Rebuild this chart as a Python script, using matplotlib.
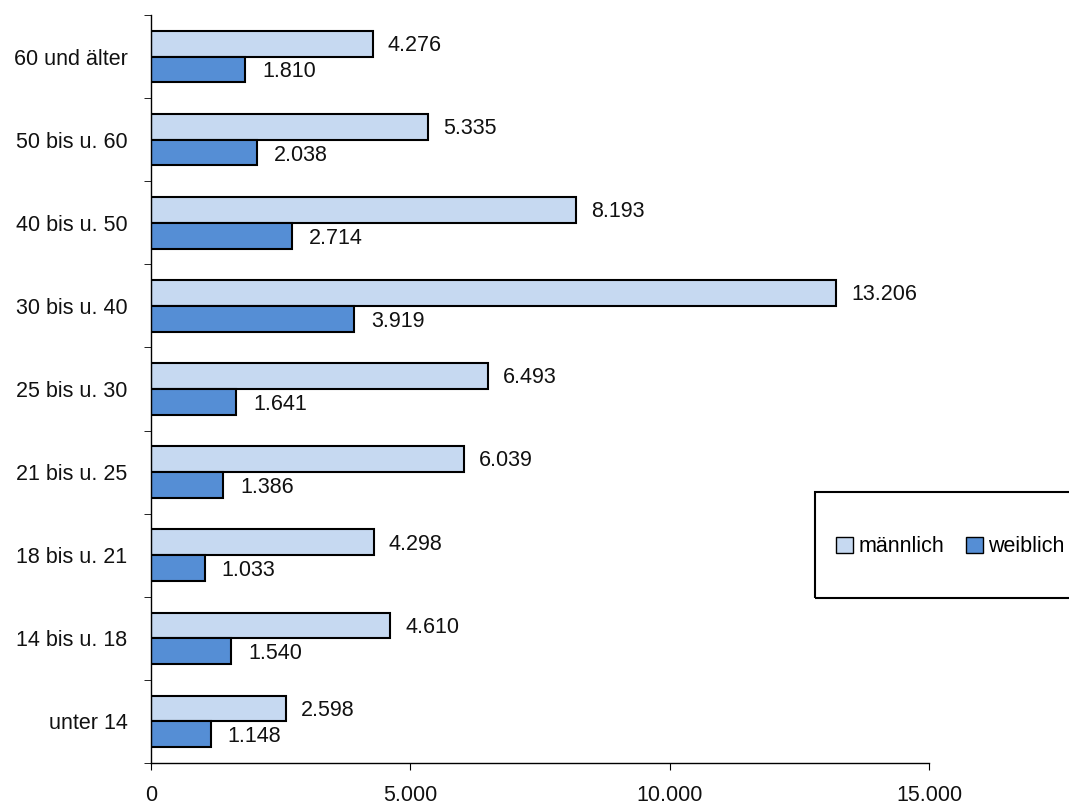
import matplotlib
matplotlib.use("Agg")
import matplotlib.pyplot as plt
import numpy as np
from matplotlib.patches import Patch

categories = ["unter 14", "14 bis u. 18", "18 bis u. 21", "21 bis u. 25", "25 bis u. 30",
              "30 bis u. 40", "40 bis u. 50", "50 bis u. 60", "60 und älter"]
maennlich = [2598, 4610, 4298, 6039, 6493, 13206, 8193, 5335, 4276]
weiblich = [1148, 1540, 1033, 1386, 1641, 3919, 2714, 2038, 1810]
xticks = [0, 5000, 10000, 15000]
xticklabels = ["0", "5.000", "10.000", "15.000"]

plt.rcParams['font.family'] = ['Liberation Sans', 'DejaVu Sans']
FS = 15.5

def fmt(v):
    return f"{v:,}".replace(",", ".")

fig = plt.figure(figsize=(10.69, 8.10), dpi=100)
ax = fig.add_axes([151/1069, 1 - 763/810, (929-151)/1069, (763-15)/810])

y = np.arange(len(categories))
h = 0.31
c_m = "#C6D9F1"
c_w = "#558ED5"
ax.barh(y + h/2, maennlich, height=h, color=c_m, edgecolor="black", linewidth=1.5)
ax.barh(y - h/2, weiblich, height=h, color=c_w, edgecolor="black", linewidth=1.5)

for yi, v in zip(y, maennlich):
    ax.text(v + 290, yi + h/2 - 0.02, fmt(v), va="center", ha="left", fontsize=FS, color="#111111")
for yi, v in zip(y, weiblich):
    ax.text(v + 330, yi - h/2 - 0.03, fmt(v), va="center", ha="left", fontsize=FS, color="#111111")

ax.set_ylim(-0.5, len(categories) - 0.5)
ax.set_xlim(0, 15000)
ax.set_yticks(y)
ax.set_yticklabels(categories, fontsize=FS, color="#111111")
ax.set_yticks(np.arange(-0.5, len(categories), 1), minor=True)
ax.tick_params(axis="y", which="major", length=0, pad=17)
ax.tick_params(axis="y", which="minor", length=5, direction="out")
ax.set_xticks(xticks)
ax.set_xticklabels(xticklabels, fontsize=FS, color="#111111")
ax.tick_params(axis="x", length=5, direction="out", pad=11)

for s in ["top", "right"]:
    ax.spines[s].set_visible(False)
for s in ["left", "bottom"]:
    ax.spines[s].set_linewidth(1.0)

# legend box
handles = [Patch(facecolor=c_m, edgecolor="black", label="männlich"),
           Patch(facecolor=c_w, edgecolor="black", label="weiblich")]
leg = fig.legend(handles=handles, loc="center left",
                 bbox_to_anchor=(836/1069, 1 - 547/810), ncol=2, frameon=False,
                 fontsize=FS, handlelength=0.8, handleheight=0.8, handletextpad=0.25,
                 columnspacing=1.0, borderaxespad=0, borderpad=0)
box = plt.Rectangle((815/1069, 1 - 598/810), 300/1069, 106/810, transform=fig.transFigure,
                    fill=False, edgecolor="black", linewidth=1.5, clip_on=False)
fig.add_artist(box)

fig.savefig("out.png", dpi=100)
